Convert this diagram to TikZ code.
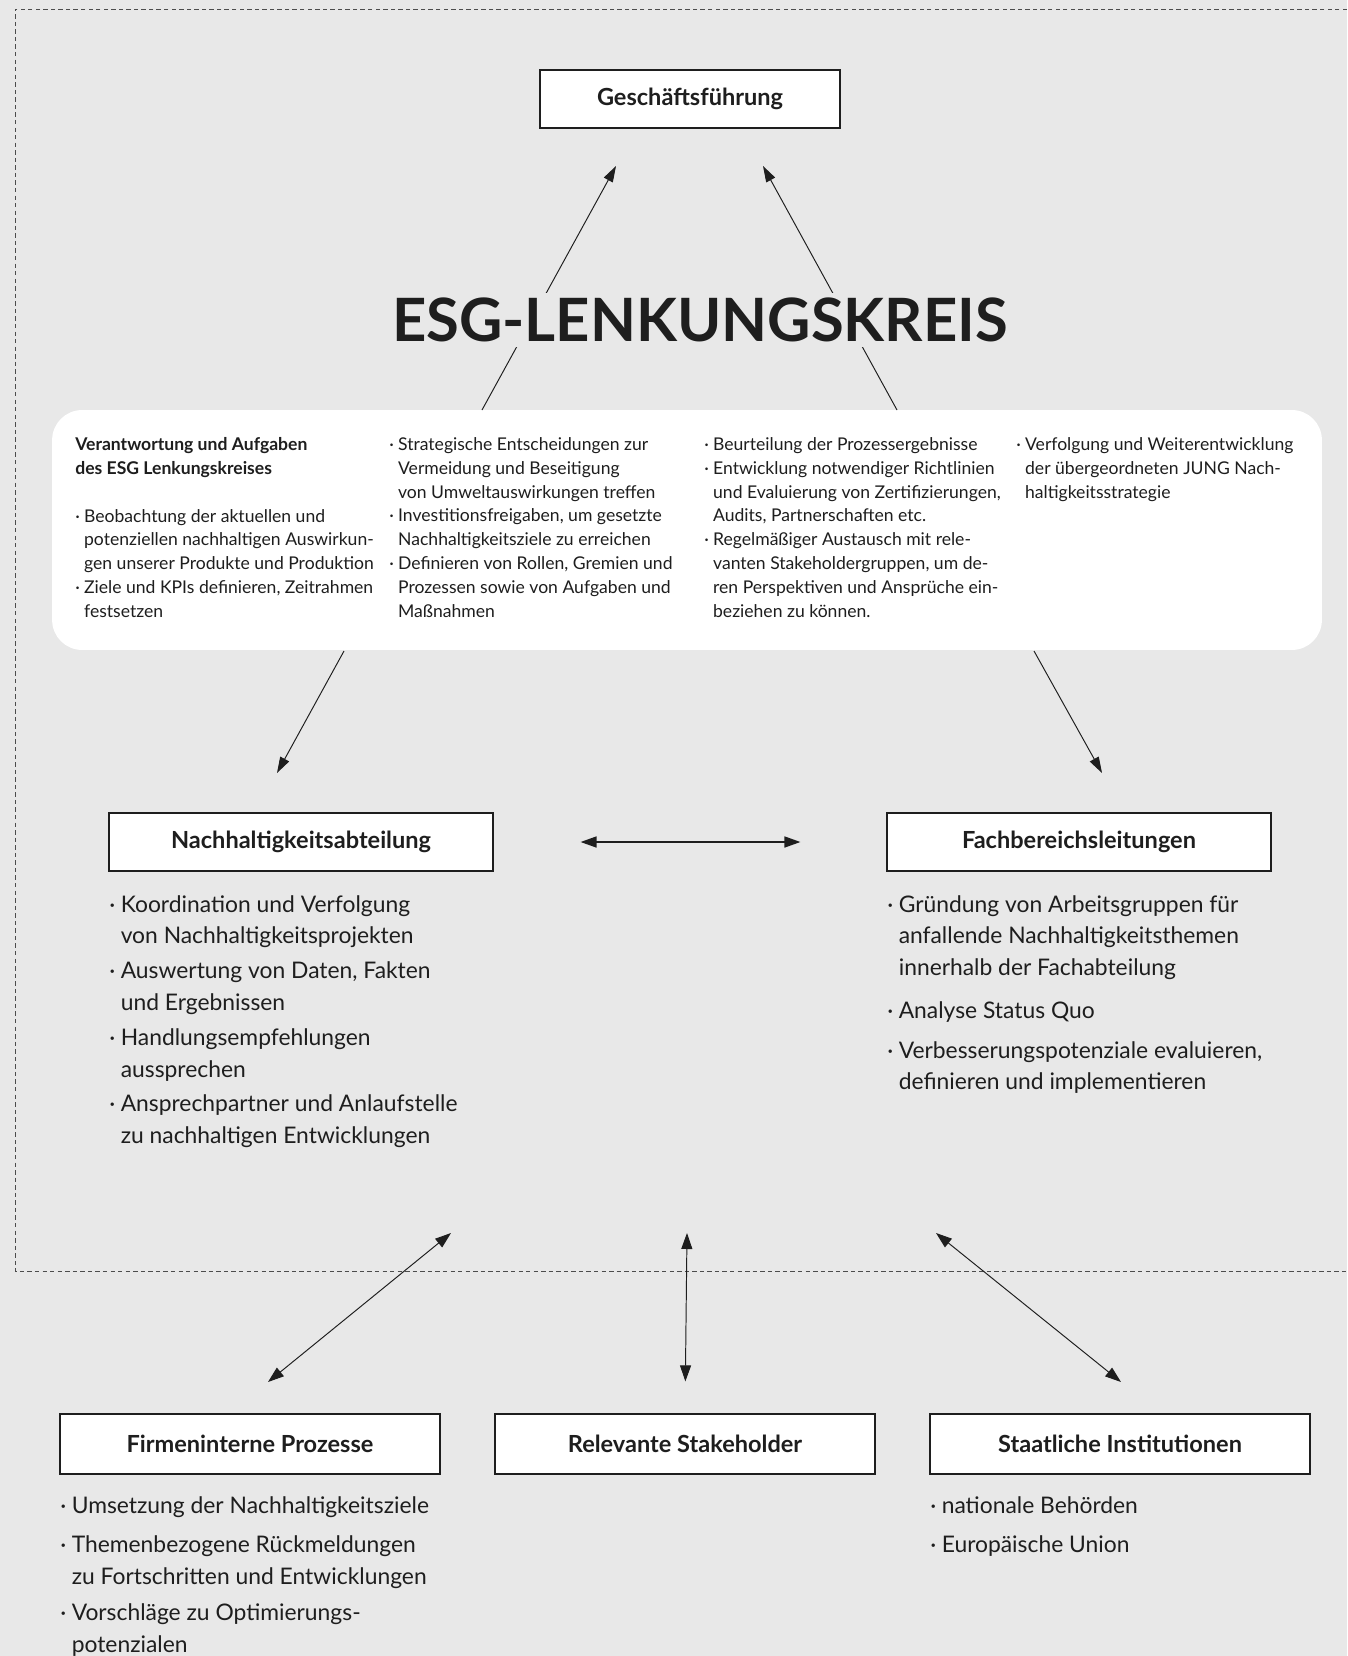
\documentclass[tikz,border=0pt]{standalone}
\usepackage{fontspec}
\setmainfont{Lato}
\usetikzlibrary{positioning}
\usetikzlibrary{arrows.meta}
\definecolor{bggray}{HTML}{E8E8E8}
\definecolor{inkgray}{HTML}{1E1E1E}
\newcommand{\bul}{\makebox[0.5em][l]{·}}
\newcommand{\ind}{\hspace*{0.5em}}
\tikzset{
    headbox/.style = {rectangle, draw=inkgray, line width=0.7pt, fill=white, inner sep=0pt, minimum height=1.16cm, text=inkgray, font=\fontsize{13.4}{15}\selectfont\bfseries},
    infobox/.style = {rectangle, fill=white, rounded corners=0.6cm, inner sep=0pt},
    titletext/.style = {fill=bggray, inner sep=3pt, text=inkgray, font=\fontsize{34}{39}\selectfont\bfseries},
    smalltext/.style = {anchor=north west, align=left, inner sep=0pt, text=inkgray, font=\fontsize{10}{13.6}\selectfont},
    listtext/.style = {anchor=north west, align=left, inner sep=0pt, text=inkgray, font=\fontsize{13}{18.1}\selectfont},
    edgen/.style = {-{Triangle[length=0.32cm,width=0.2cm]}, line width=0.55pt, inkgray},
    edgeb/.style = {{Triangle[length=0.32cm,width=0.22cm]}-{Triangle[length=0.32cm,width=0.22cm]}, line width=0.55pt, inkgray},
    dashframe/.style = {draw=black!70, line width=0.5pt, dash pattern=on 2.5pt off 1.8pt}
}

\begin{document}
\begin{tikzpicture}[x=0.02cm,y=-0.02cm]
%
\fill[bggray] (0,0) rectangle (1347,1656);
\useasboundingbox (0,0) rectangle (1347,1656);
\draw[dashframe] (1347,9) -- (15,9) -- (15,1271) -- (1347,1271);
%
\node[headbox, minimum width=6cm] at (690,99) (gf) {Geschäftsführung};
\node[infobox, minimum width=25.4cm, minimum height=4.8cm] at (687,530) (lk) {};
\node[headbox, minimum width=7.68cm] at (301,842) (na) {Nachhaltigkeitsabteilung};
\node[headbox, minimum width=7.68cm] at (1079,842) (fb) {Fachbereichsleitungen};
\node[headbox, minimum width=7.6cm, minimum height=1.2cm] at (250,1444) (fp) {Firmeninterne Prozesse};
\node[headbox, minimum width=7.6cm, minimum height=1.2cm] at (685,1444) (rs) {Relevante Stakeholder};
\node[headbox, minimum width=7.6cm, minimum height=1.2cm] at (1120,1444) (si) {Staatliche Institutionen};
%
\coordinate (gf-l) at (616,166);
\coordinate (gf-r) at (763,166);
\coordinate (lk-tl) at (482,410);
\coordinate (lk-tr) at (897,410);
\coordinate (lk-bl) at (344,651);
\coordinate (lk-br) at (1034,651);
\coordinate (na-t) at (277,773);
\coordinate (fb-t) at (1102,773);
\coordinate (out-l) at (451,1233);
\coordinate (out-m) at (687,1233);
\coordinate (out-r) at (936,1233);
\coordinate (fp-t) at (268,1382);
\coordinate (si-t) at (1121,1382);
%
\draw[edgen] (lk-tl) -- (gf-l);
\draw[edgen] (lk-tr) -- (gf-r);
\draw[edgen] (lk-bl) -- (na-t);
\draw[edgen] (lk-br) -- (fb-t);
\draw[edgeb, line width=0.9pt, shorten <=1.74cm, shorten >=1.72cm] (na.east) -- (fb.west);
\draw[edgeb] (out-l) -- (fp-t);
\draw[edgeb, shorten >=0.64cm] (out-m) -- (rs.north);
\draw[edgeb] (out-r) -- (si-t);
%
\node[titletext] at (700,320) (ttl) {ESG-LENKUNGSKREIS};
%
\node[smalltext] at (75,437) (lk-c1) {\textbf{Verantwortung und Aufgaben}\\
\textbf{des ESG Lenkungskreises}\\[13.6pt]
\bul Beobachtung der aktuellen und\\
\ind potenziellen nachhaltigen Auswirkun-\\
\ind gen unserer Produkte und Produktion\\
\bul Ziele und KPIs definieren, Zeitrahmen\\
\ind festsetzen};
\node[smalltext] at (389,437) (lk-c2) {\bul Strategische Entscheidungen zur\\
\ind Vermeidung und Beseitigung\\
\ind von Umweltauswirkungen treffen\\
\bul Investitionsfreigaben, um gesetzte\\
\ind Nachhaltigkeitsziele zu erreichen\\
\bul Definieren von Rollen, Gremien und\\
\ind Prozessen sowie von Aufgaben und\\
\ind Maßnahmen};
\node[smalltext] at (704,437) (lk-c3) {\bul Beurteilung der Prozessergebnisse\\
\bul Entwicklung notwendiger Richtlinien\\
\ind und Evaluierung von Zertifizierungen,\\
\ind Audits, Partnerschaften etc.\\
\bul Regelmäßiger Austausch mit rele-\\
\ind vanten Stakeholdergruppen, um de-\\
\ind ren Perspektiven und Ansprüche ein-\\
\ind beziehen zu können.};
\node[smalltext] at (1016,437) (lk-c4) {\bul Verfolgung und Weiterentwicklung\\
\ind der übergeordneten JUNG Nach-\\
\ind haltigkeitsstrategie};
%
\node[listtext] at (109,895) (na-list) {\bul Koordination und Verfolgung\\
\ind von Nachhaltigkeitsprojekten\\[1.7pt]
\bul Auswertung von Daten, Fakten\\
\ind und Ergebnissen\\[1.7pt]
\bul Handlungsempfehlungen\\
\ind aussprechen\\[1.7pt]
\bul Ansprechpartner und Anlaufstelle\\
\ind zu nachhaltigen Entwicklungen};
\node[listtext] at (887,895) (fb-list) {\bul Gründung von Arbeitsgruppen für\\
\ind anfallende Nachhaltigkeitsthemen\\
\ind innerhalb der Fachabteilung\\[6.2pt]
\bul Analyse Status Quo\\[4.5pt]
\bul Verbesserungspotenziale evaluieren,\\
\ind definieren und implementieren};
\node[listtext] at (60,1496) (fp-list) {\bul Umsetzung der Nachhaltigkeitsziele\\[4.5pt]
\bul Themenbezogene Rückmeldungen\\
\ind zu Fortschritten und Entwicklungen\\[2.3pt]
\bul Vorschläge zu Optimierungs-\\
\ind potenzialen};
\node[listtext] at (930,1496) (si-list) {\bul nationale Behörden\\[4.5pt]
\bul Europäische Union};

\end{tikzpicture}
\end{document}
